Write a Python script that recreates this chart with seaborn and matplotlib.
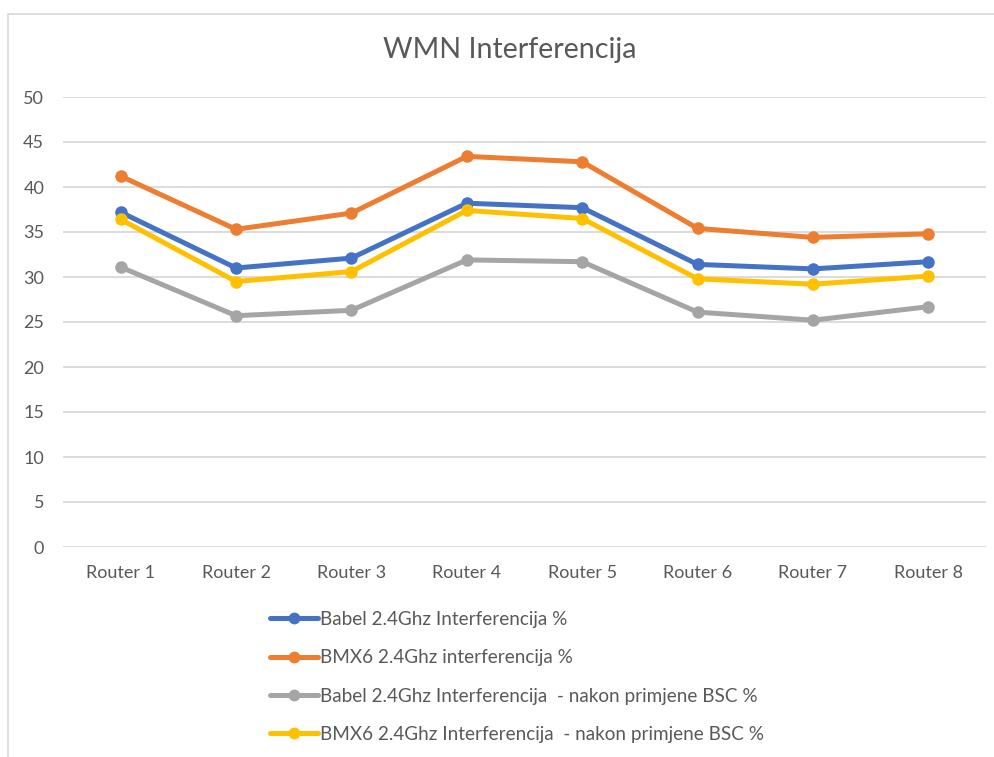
import numpy as np
import pandas as pd
import matplotlib
matplotlib.use("Agg")
import matplotlib.pyplot as plt
import seaborn as sns
from matplotlib.lines import Line2D
from matplotlib.patches import Rectangle

# data
routers = ["Router 1", "Router 2", "Router 3", "Router 4",
           "Router 5", "Router 6", "Router 7", "Router 8"]
babel = [37.2, 31.0, 32.1, 38.2, 37.7, 31.4, 30.9, 31.7]
bmx6 = [41.2, 35.3, 37.1, 43.4, 42.8, 35.4, 34.4, 34.8]
babel_bsc = [31.1, 25.7, 26.3, 31.9, 31.7, 26.1, 25.2, 26.7]
bmx6_bsc = [36.4, 29.5, 30.6, 37.4, 36.5, 29.8, 29.2, 30.1]
series_names = ["Babel 2.4Ghz Interferencija %",
                "BMX6 2.4Ghz interferencija %",
                "Babel 2.4Ghz Interferencija  - nakon primjene BSC %",
                "BMX6 2.4Ghz Interferencija  - nakon primjene BSC %"]
colors = ["#4472C4", "#ED7D31", "#A5A5A5", "#FFC000"]

sns.set_theme(style="white")
plt.rcParams['font.family'] = ['Lato', 'DejaVu Sans']

frames = []
for name, vals in zip(series_names, [babel, bmx6, babel_bsc, bmx6_bsc]):
    frames.append(pd.DataFrame({"router": routers, "value": vals, "series": name}))
df = pd.concat(frames, ignore_index=True)
df["x"] = df["router"].map({r: i for i, r in enumerate(routers)})

fig = plt.figure(figsize=(9.95, 7.57), dpi=100)
ax = fig.add_axes([63 / 995, 1 - 547 / 757, 923 / 995, 450 / 757])

sns.lineplot(data=df, x="x", y="value", hue="series", palette=colors,
             hue_order=series_names, marker="o", markersize=9,
             markeredgewidth=0, linewidth=3.6, ax=ax, legend=False)

ax.set_xlim(-0.5, len(routers) - 0.5)
ax.set_ylim(0, 50)
ax.set_yticks(np.arange(0, 51, 5))
ax.set_xticks(range(len(routers)))
ax.set_xticklabels(routers)
ax.set_xlabel("")
ax.set_ylabel("")
ax.grid(axis="y", color="#D9D9D9", linewidth=1.3)
ax.set_axisbelow(True)
for s in ax.spines.values():
    s.set_visible(False)
ax.tick_params(axis="both", length=0, labelsize=13, colors="#595959")
ax.tick_params(axis="x", pad=13)
ax.tick_params(axis="y", pad=13.5)

fig.text(510 / 995, 1 - 50 / 757, "WMN Interferencija", ha="center", va="center",
         fontsize=20.6, color="#595959")

handles = [Line2D([0], [0], color=c, linewidth=3.6, marker="o", markersize=8.5,
                  markeredgewidth=0) for c in colors]
fig.legend(handles, series_names, loc="upper left",
           bbox_to_anchor=(270 / 995, 1 - 611 / 757), frameon=False,
           fontsize=13.6, handlelength=2.55, handletextpad=0.1,
           labelspacing=1.13, borderpad=0, borderaxespad=0,
           labelcolor="#595959")

fig.patches.append(Rectangle((8 / 995, -0.05), 1.0, 1 - 14 / 757 + 0.05,
                             transform=fig.transFigure, fill=False,
                             edgecolor="#D9D9D9", linewidth=1.2))

fig.savefig("out.png", dpi=100)
